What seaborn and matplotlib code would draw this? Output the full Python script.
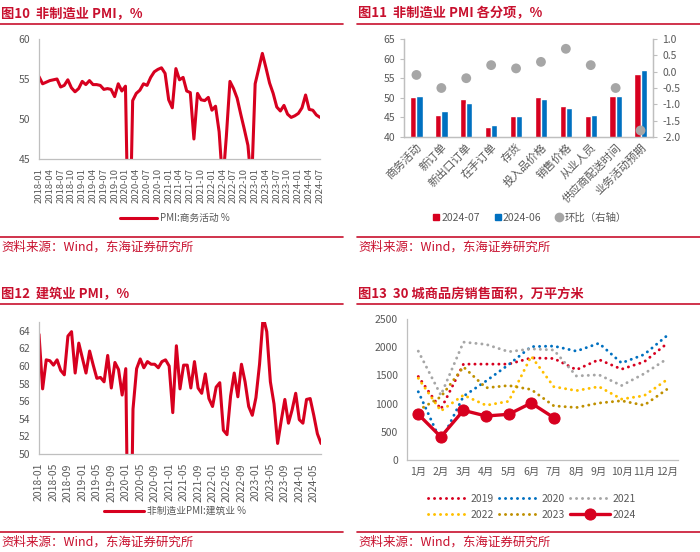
import numpy as np
import pandas as pd
import seaborn as sns
import matplotlib.pyplot as plt
from matplotlib.lines import Line2D

# ---- 数据 ----
pmi_months = pd.date_range('2018-01', '2024-07', freq='MS').strftime('%Y-%m').tolist()

pmi_services = [
    55.3, 54.4, 54.6, 54.8, 54.9, 55.0, 54.0, 54.2, 54.9, 53.9, 53.4, 53.8,
    54.7, 54.3, 54.8, 54.3, 54.3, 54.2, 53.7, 53.8, 53.7, 52.8, 54.4, 53.5,
    54.1, 29.6, 52.3, 53.2, 53.6, 54.4, 54.2, 55.2, 55.9, 56.2, 56.4, 55.7,
    52.4, 51.4, 56.3, 54.9, 55.2, 53.5, 53.3, 47.5, 53.2, 52.4, 52.3, 52.7,
    51.1, 51.6, 48.4, 41.9, 47.8, 54.7, 53.8, 52.6, 50.6, 48.7, 46.7, 41.6,
    54.4, 56.3, 58.2, 56.4, 54.5, 53.2, 51.5, 51.0, 51.7, 50.6, 50.2, 50.4,
    50.7, 51.4, 53.0, 51.2, 51.1, 50.5, 50.2,
]

pmi_construction = [
    63.6, 57.4, 60.7, 60.6, 60.1, 60.7, 59.5, 59.0, 63.4, 63.9, 59.2, 62.6,
    60.9, 59.2, 61.7, 60.1, 58.6, 58.7, 58.2, 61.2, 57.5, 60.4, 59.6, 56.7,
    59.7, 26.6, 55.1, 59.7, 60.8, 59.8, 60.5, 60.2, 60.2, 59.8, 60.5, 60.7,
    60.0, 54.7, 62.3, 57.4, 60.1, 60.1, 57.5, 60.5, 57.5, 56.9, 59.1, 56.3,
    55.4, 57.6, 58.1, 52.7, 52.2, 56.6, 59.2, 56.5, 60.2, 58.2, 55.4, 54.4,
    56.4, 60.2, 65.6, 63.9, 58.2, 55.7, 51.2, 53.8, 56.2, 53.5, 55.0, 56.9,
    53.9, 53.5, 56.2, 56.3, 54.4, 52.3, 51.2,
]

sub_items = ['商务活动', '新订单', '新出口订单', '在手订单', '存货', '投入品价格',
             '销售价格', '从业人员', '供应商配送时间', '业务活动预期']
sub_jul = [50.2, 45.7, 49.6, 42.5, 45.3, 50.1, 48.0, 45.3, 50.4, 56.0]
sub_jun = [50.5, 46.6, 48.7, 43.0, 45.3, 49.6, 47.4, 45.6, 50.4, 57.1]
sub_mom = [-0.1, -0.5, -0.2, 0.2, 0.1, 0.3, 0.7, 0.2, -0.5, -1.8]

month_labels = ['1月', '2月', '3月', '4月', '5月', '6月', '7月', '8月', '9月', '10月', '11月', '12月']
sales_years = ['2019', '2020', '2021', '2022', '2023', '2024']
sales_2019 = [1480, 900, 1700, 1700, 1700, 1810, 1800, 1600, 1780, 1610, 1740, 2060]
sales_2020 = [1210, 330, 1130, 1400, 1690, 2010, 2020, 1930, 2070, 1720, 1870, 2200]
sales_2021 = [1930, 1150, 2090, 2050, 1920, 1970, 1950, 1490, 1510, 1320, 1530, 1790]
sales_2022 = [1450, 870, 1150, 970, 1040, 1840, 1300, 1230, 1300, 1080, 1140, 1420]
sales_2023 = [880, 1120, 1650, 1280, 1320, 1250, 960, 930, 1010, 1050, 970, 1250]
sales_2024 = [810, 410, 880, 780, 810, 1010, 750]

# ---- 样式 ----
RED = '#D7001F'
TITLE_RED = '#C8102E'
BLUE = '#0070C0'
GRAY = '#A6A6A6'
YELLOW = '#FFC000'
OLIVE = '#BF9000'
AXIS = '#BFBFBF'
TXT = '#595959'

sns.set_style('white')
plt.rcParams['font.family'] = ['Noto Sans CJK SC', 'DejaVu Sans']
plt.rcParams['axes.unicode_minus'] = False

W, H = 700, 552
fig = plt.figure(figsize=(7, 5.52), dpi=100)


def axes_px(left, top, right, bottom):
    return fig.add_axes([left / W, 1 - bottom / H, (right - left) / W, (bottom - top) / H])


def fpt(x, y):
    return x / W, 1 - y / H


def frame(x0, x1, y_title, y_line1, y_line2, y_src, title):
    fig.text(*fpt(x0 + 1, y_title), title, color=TITLE_RED, fontsize=9.5,
             fontweight='bold', va='center', ha='left')
    for yy in (y_line1, y_line2):
        fig.add_artist(Line2D([x0 / W, x1 / W], [1 - yy / H, 1 - yy / H],
                              color=TITLE_RED, lw=1.2, transform=fig.transFigure))
    fig.text(*fpt(x0 + 1, y_src), '资料来源：Wind，东海证券研究所', color=TITLE_RED,
             fontsize=9, va='center', ha='left')


def style_axes(ax, right=False):
    sns.despine(ax=ax, right=not right, top=True)
    for s in ['left', 'bottom', 'right']:
        ax.spines[s].set_color(AXIS)
        ax.spines[s].set_linewidth(0.9)
    ax.tick_params(colors=AXIS, labelcolor=TXT, labelsize=7.5, length=3, width=0.8)
    ax.grid(False)
    ax.set_xlabel('')
    ax.set_ylabel('')


# ---- 图10 ----
frame(0, 343, 13, 23.5, 237, 247, '图10  非制造业 PMI，%')
ax1 = axes_px(39, 39, 320, 159)
df1 = pd.DataFrame({'idx': np.arange(len(pmi_months)), 'v': pmi_services})
sns.lineplot(data=df1, x='idx', y='v', ax=ax1, color=RED, lw=2.2, label='PMI:商务活动 %')
ax1.set_xlim(0, len(pmi_months) - 1)
ax1.set_ylim(45, 60)
ax1.set_yticks([45, 50, 55, 60])
ax1.set_xticks(np.arange(0, len(pmi_months), 3))
style_axes(ax1)
ax1.set_xticklabels(pmi_months[::3], rotation=90, fontsize=6.8)
h, l = ax1.get_legend_handles_labels()
ax1.legend(h, l, loc='center', bbox_to_anchor=fpt(175, 218), bbox_transform=fig.transFigure,
           frameon=False, fontsize=7, handlelength=3.8, handletextpad=0.3, labelcolor=TXT)

# ---- 图11 ----
frame(357, 700, 13, 23.5, 237, 247, '图11  非制造业 PMI 各分项，%')
ax2 = axes_px(404, 39, 653, 137)
df2 = pd.DataFrame({
    'item': sub_items * 2,
    'period': ['2024-07'] * len(sub_items) + ['2024-06'] * len(sub_items),
    'v': sub_jul + sub_jun,
})
sns.barplot(data=df2, x='item', y='v', hue='period', palette=[RED, BLUE], width=0.5,
            saturation=1, ax=ax2, legend=False)
ax2.set_ylim(40, 65)
ax2.set_yticks(range(40, 66, 5))
ax2r = ax2.twinx()
sns.scatterplot(x=sub_items, y=sub_mom, ax=ax2r, color=GRAY, s=50, edgecolor='none', zorder=5)
ax2r.set_ylim(-2.0, 1.0)
ax2r.set_yticks(np.arange(-2.0, 1.01, 0.5))
ax2r.set_yticklabels([f'{t:.1f}' for t in np.arange(-2.0, 1.01, 0.5)])
ax2.set_xlim(-0.5, len(sub_items) - 0.5)
style_axes(ax2, right=True)
style_axes(ax2r, right=True)
ax2r.spines['left'].set_color(AXIS)
ax2.tick_params(axis='x', length=0)
ax2.set_xticks(range(len(sub_items)))
ax2.set_xticklabels(sub_items, rotation=45, ha='right', rotation_mode='anchor', fontsize=8)
handles2 = [
    Line2D([], [], marker='s', color=RED, lw=0, markersize=4.5),
    Line2D([], [], marker='s', color=BLUE, lw=0, markersize=4.5),
    Line2D([], [], marker='o', color=GRAY, lw=0, markersize=6),
]
ax2.legend(handles2, ['2024-07', '2024-06', '环比（右轴）'], loc='center', ncol=3,
           bbox_to_anchor=fpt(530, 218), bbox_transform=fig.transFigure, frameon=False,
           fontsize=7.5, handlelength=0.6, handletextpad=0.2, columnspacing=1.4, labelcolor=TXT)

# ---- 图12 ----
frame(0, 343, 294, 304, 532, 542, '图12  建筑业 PMI，%')
ax3 = axes_px(39, 322, 321, 454)
df3 = pd.DataFrame({'idx': np.arange(len(pmi_months)), 'v': pmi_construction})
sns.lineplot(data=df3, x='idx', y='v', ax=ax3, color=RED, lw=2.2, label='非制造业PMI:建筑业 %')
ax3.set_xlim(0, len(pmi_months) - 1)
ax3.set_ylim(50, 65)
ax3.set_yticks(range(50, 65, 2))
ax3.set_xticks(np.arange(0, len(pmi_months), 4))
style_axes(ax3)
ax3.set_xticklabels(pmi_months[::4], rotation=90, fontsize=7.5)
h, l = ax3.get_legend_handles_labels()
ax3.legend(h, l, loc='center', bbox_to_anchor=fpt(175, 511), bbox_transform=fig.transFigure,
           frameon=False, fontsize=7, handlelength=4.2, handletextpad=0.3, labelcolor=TXT)

# ---- 图13 ----
frame(357, 700, 294, 304, 532, 542, '图13  30 城商品房销售面积，万平方米')
ax4 = axes_px(407, 319, 678, 460)
sales = [sales_2019, sales_2020, sales_2021, sales_2022, sales_2023, sales_2024]
colors4 = [RED, BLUE, GRAY, YELLOW, OLIVE, RED]
for yr, vals, c in zip(sales_years, sales, colors4):
    x = np.arange(len(vals))
    if yr == '2024':
        sns.lineplot(x=x, y=vals, ax=ax4, color=c, lw=2.4, marker='o', markersize=8,
                     markeredgecolor=c, label=yr, zorder=5)
    else:
        sns.lineplot(x=x, y=vals, ax=ax4, color=c, lw=2.1, linestyle=(0, (0.05, 2.0)),
                     dash_capstyle='round', label=yr)
ax4.set_xlim(-0.5, 11.5)
ax4.set_ylim(0, 2500)
ax4.set_yticks(range(0, 2501, 500))
ax4.set_xticks(np.arange(12))
ax4.set_xticks(np.arange(-0.5, 12, 1), minor=True)
style_axes(ax4)
ax4.set_xticklabels(month_labels, fontsize=7.5)
ax4.tick_params(axis='x', which='major', length=0, pad=5)
ax4.tick_params(axis='x', which='minor', length=3, color=AXIS, width=0.8)
h, l = ax4.get_legend_handles_labels()
order = [0, 3, 1, 4, 2, 5]
ax4.legend([h[i] for i in order], [l[i] for i in order], loc='center', ncol=3,
           bbox_to_anchor=fpt(532, 507), bbox_transform=fig.transFigure, frameon=False,
           fontsize=7.5, handlelength=3.8, handletextpad=0.3, columnspacing=0.5,
           labelspacing=0.6, labelcolor=TXT)

fig.savefig('out.png', dpi=100)
